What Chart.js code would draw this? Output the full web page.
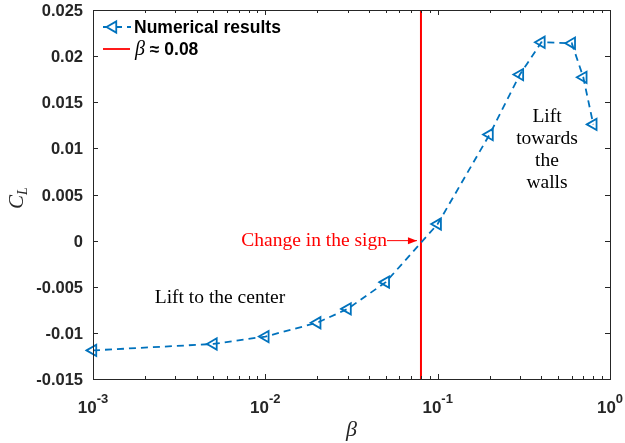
<!DOCTYPE html>
<html>
<head>
<meta charset="utf-8">
<script src="https://cdn.jsdelivr.net/npm/chart.js@4.4.1/dist/chart.umd.min.js"></script>
<style>
html, body { margin: 0; padding: 0; background: #fff; }
</style>
</head>
<body>
<canvas id="liftChart" width="625" height="443"></canvas>
<script>
// data
const betaValues = [0.001, 0.005, 0.01, 0.02, 0.03, 0.05, 0.1, 0.2, 0.3, 0.4, 0.6, 0.7, 0.8];
const liftCoeff = [-0.0119, -0.0112, -0.0104, -0.0089, -0.0074, -0.0045, 0.0018, 0.0115, 0.0180, 0.0215, 0.0214, 0.0177, 0.0126];
const signChangeBeta = 0.08;
const yTickValues = [0.025, 0.02, 0.015, 0.01, 0.005, 0, -0.005, -0.01, -0.015];
const yTickLabels = ['0.025', '0.02', '0.015', '0.01', '0.005', '0', '-0.005', '-0.01', '-0.015'];
const xTickValues = [0.001, 0.01, 0.1, 1];
const xTickExps = ['-3', '-2', '-1', '0'];

const blue = '#0072BD';
const red = '#FF0000';
const axisColor = '#262626';
const serif = '"Liberation Serif", "DejaVu Serif", serif';
const sans = '"Liberation Sans", Arial, sans-serif';

function seg(ctx, x1, y1, x2, y2) {
    ctx.beginPath();
    ctx.moveTo(x1, y1);
    ctx.lineTo(x2, y2);
    ctx.stroke();
}

const decorPlugin = {
    id: 'decor',
    afterDraw(chart) {
        const ctx = chart.ctx;
        const a = chart.chartArea;
        const xs = chart.scales.x;
        const ys = chart.scales.y;
        ctx.save();

        // box
        ctx.strokeStyle = axisColor;
        ctx.lineWidth = 1;
        ctx.strokeRect(a.left + 0.5, a.top + 0.5, a.right - a.left, a.bottom - a.top);

        // y ticks, both sides, and labels
        ctx.fillStyle = axisColor;
        ctx.font = 'bold 16.5px ' + sans;
        ctx.textAlign = 'right';
        ctx.textBaseline = 'middle';
        yTickValues.forEach((v, i) => {
            const py = Math.round(ys.getPixelForValue(v)) + 0.5;
            seg(ctx, a.left, py, a.left + 5, py);
            seg(ctx, a.right - 5, py, a.right, py);
            ctx.fillText(yTickLabels[i], 83, py + 1);
        });

        // x ticks, major + minor, top and bottom
        for (let d = -3; d < 0; d++) {
            for (let m = 1; m < 10; m++) {
                const px = Math.round(xs.getPixelForValue(m * Math.pow(10, d))) + 0.5;
                const len = m === 1 ? 5 : 3;
                seg(ctx, px, a.bottom, px, a.bottom - len);
                seg(ctx, px, a.top, px, a.top + len);
            }
        }

        // x tick labels 10^n
        ctx.textBaseline = 'alphabetic';
        xTickValues.forEach((v, i) => {
            const px = xs.getPixelForValue(v);
            ctx.font = 'bold 17px ' + sans;
            const w1 = ctx.measureText('10').width;
            ctx.font = 'bold 13px ' + sans;
            const w2 = ctx.measureText(xTickExps[i]).width;
            const x0 = px - (w1 + w2) / 2;
            ctx.font = 'bold 17px ' + sans;
            ctx.textAlign = 'left';
            ctx.fillText('10', x0, 413);
            ctx.font = 'bold 13px ' + sans;
            ctx.fillText(xTickExps[i], x0 + w1, 403);
        });

        // axis titles
        ctx.font = 'italic 22px ' + serif;
        ctx.textAlign = 'center';
        ctx.fillText('\u03B2', (a.left + a.right) / 2, 436);

        ctx.save();
        ctx.translate(23, 198);
        ctx.rotate(-Math.PI / 2);
        ctx.font = 'italic 21px ' + serif;
        ctx.textAlign = 'left';
        const cw = ctx.measureText('C').width;
        ctx.font = 'italic 14px ' + serif;
        const lw = ctx.measureText('L').width;
        ctx.font = 'italic 21px ' + serif;
        ctx.fillText('C', -(cw + lw) / 2, 0);
        ctx.font = 'italic 14px ' + serif;
        ctx.fillText('L', -(cw + lw) / 2 + cw, 4);
        ctx.restore();

        // legend
        const ly1 = 27, ly2 = 49;
        ctx.lineWidth = 1.8;
        ctx.strokeStyle = blue;
        ctx.setLineDash([7, 5]);
        seg(ctx, 103, ly1, 131, ly1);
        ctx.setLineDash([]);
        ctx.beginPath();
        const r = 6.5;
        ctx.moveTo(113 - r, ly1);
        ctx.lineTo(113 + r / 2, ly1 - r * 0.866);
        ctx.lineTo(113 + r / 2, ly1 + r * 0.866);
        ctx.closePath();
        ctx.fillStyle = '#fff';
        ctx.fill();
        ctx.stroke();
        ctx.strokeStyle = red;
        seg(ctx, 103, ly2, 130, ly2);
        ctx.fillStyle = '#000';
        ctx.textAlign = 'left';
        ctx.textBaseline = 'middle';
        ctx.font = 'bold 17.5px ' + sans;
        ctx.fillText('Numerical results', 134, ly1 + 1);
        ctx.font = 'italic 20px ' + serif;
        ctx.fillText('\u03B2', 135, ly2 + 1);
        const bw = ctx.measureText('\u03B2').width;
        ctx.font = 'bold 17.5px ' + sans;
        ctx.fillText(' \u2248 0.08', 135 + bw, ly2 + 1);

        // annotations
        ctx.font = '19.5px ' + serif;
        ctx.fillStyle = '#000';
        ctx.textAlign = 'center';
        ctx.fillText('Lift to the center', 220, 298);
        const wallLines = ['Lift', 'towards', 'the', 'walls'];
        wallLines.forEach((t, i) => ctx.fillText(t, 547, 117 + i * 22));

        const y0 = ys.getPixelForValue(0);
        const xr = xs.getPixelForValue(signChangeBeta);
        ctx.fillStyle = red;
        ctx.textAlign = 'right';
        ctx.fillText('Change in the sign', 387, y0);
        ctx.strokeStyle = red;
        ctx.lineWidth = 1;
        seg(ctx, 387, y0, xr - 4, y0);
        ctx.beginPath();
        ctx.moveTo(xr - 4, y0);
        ctx.lineTo(xr - 13, y0 - 3.5);
        ctx.lineTo(xr - 13, y0 + 3.5);
        ctx.closePath();
        ctx.fill();

        ctx.restore();
    }
};

new Chart(document.getElementById('liftChart'), {
    type: 'line',
    data: {
        datasets: [
            {
                label: 'Numerical results',
                data: betaValues.map((b, i) => ({ x: b, y: liftCoeff[i] })),
                borderColor: blue,
                borderWidth: 1.8,
                borderDash: [7, 5],
                pointStyle: 'triangle',
                pointRotation: -90,
                pointRadius: 6.5,
                pointBorderWidth: 1.8,
                pointBackgroundColor: 'rgba(255,255,255,0)',
                pointBorderColor: blue,
                fill: false,
                tension: 0,
                clip: false
            },
            {
                label: 'beta',
                data: [{ x: signChangeBeta, y: -0.015 }, { x: signChangeBeta, y: 0.025 }],
                borderColor: red,
                borderWidth: 2,
                pointRadius: 0,
                fill: false
            }
        ]
    },
    options: {
        responsive: false,
        animation: false,
        devicePixelRatio: 1,
        layout: { padding: { left: 0, right: 15, top: 10, bottom: 0 } },
        plugins: {
            legend: { display: false },
            tooltip: { enabled: false }
        },
        scales: {
            x: {
                type: 'logarithmic',
                min: 0.001,
                max: 1,
                grid: { display: false },
                border: { display: false },
                ticks: { display: false },
                afterFit: s => { s.height = 64; }
            },
            y: {
                type: 'linear',
                min: -0.015,
                max: 0.025,
                grid: { display: false },
                border: { display: false },
                ticks: { display: false },
                afterFit: s => { s.width = 93; }
            }
        }
    },
    plugins: [decorPlugin]
});
</script>
</body>
</html>
